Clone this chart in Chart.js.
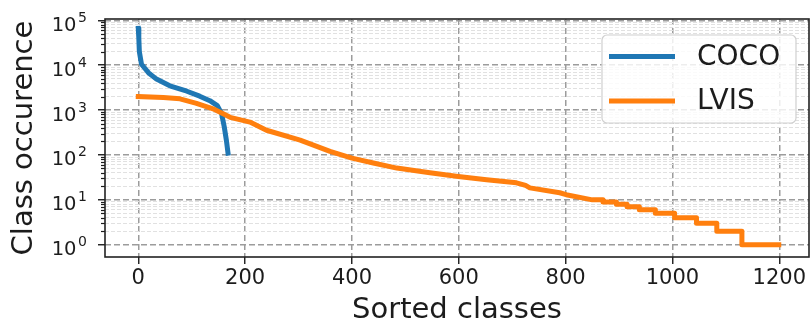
<!DOCTYPE html>
<html>
<head>
<meta charset="utf-8">
<script src="https://cdn.jsdelivr.net/npm/chart.js@4.4.1/dist/chart.umd.min.js"></script>
<style>
html,body{margin:0;padding:0;background:#ffffff;}
#c{display:block;}
</style>
</head>
<body>
<canvas id="c" width="810" height="329"></canvas>
<script>
// ---- data ----
const seriesNames = ['COCO', 'LVIS'];
const cocoX = [0, 1, 2, 6, 19, 34, 59, 91, 115, 134, 148, 156, 161, 165, 168];
const cocoY = [66000, 40000, 20000, 10500, 6800, 4900, 3470, 2630, 2040, 1620, 1260, 830, 420, 210, 110];
const lvisX = [0, 47, 78, 109, 140, 172, 209, 240, 303, 359, 400, 440, 484, 546, 599, 652, 708, 725, 733, 789, 801,
               850, 870, 870, 895, 895, 915, 915, 938, 938, 968, 968, 1004, 1004, 1045, 1045, 1083, 1083, 1130, 1130, 1199];
const lvisY = [2000, 1900, 1780, 1410, 1070, 690, 540, 355, 214, 120, 85, 66, 51, 40, 33, 28, 24, 21, 18.5, 14.4, 13,
               10, 10, 9, 9, 8, 8, 7, 7, 6, 6, 5, 5, 4, 4, 3, 3, 2, 2, 1, 1];
const xTickValues = [0, 200, 400, 600, 800, 1000, 1200];
const yTickExponents = [0, 1, 2, 3, 4, 5];
const xTitle = 'Sorted classes';
const yTitle = 'Class occurence';

// ---- styling ----
const FONT = "'DejaVu Sans', sans-serif";
const TXT = '#1c1c1c';
const colors = ['#1f77b4', '#ff7f0e'];

function toPts(xs, ys) { return xs.map((x, i) => ({x: x, y: ys[i]})); }

const decorPlugin = {
  id: 'decor',
  afterDraw(chart) {
    const ctx = chart.ctx;
    const a = chart.chartArea;
    const ys = chart.scales.y;
    ctx.save();
    // minor ticks on y
    ctx.strokeStyle = TXT;
    ctx.lineWidth = 1.2;
    ys.ticks.forEach(t => {
      if (t.major) return;
      const py = Math.round(ys.getPixelForValue(t.value)) + 0.5;
      ctx.beginPath();
      ctx.moveTo(a.left, py);
      ctx.lineTo(a.left - 4, py);
      ctx.stroke();
    });
    // y tick labels: base 10 with a raised exponent
    ctx.fillStyle = TXT;
    ctx.textBaseline = 'alphabetic';
    ys.ticks.forEach(t => {
      if (!t.major) return;
      const e = Math.round(Math.log10(t.value));
      const py = ys.getPixelForValue(t.value);
      const baseRight = a.left - 28.5;
      ctx.font = '19.5px ' + FONT;
      ctx.textAlign = 'right';
      ctx.fillText('10', baseRight, py + 10.5);
      ctx.font = '14px ' + FONT;
      ctx.textAlign = 'left';
      ctx.fillText(String(e), baseRight + 1.5, py + 1.5);
    });
    // frame
    ctx.lineWidth = 1.6;
    ctx.strokeStyle = '#222222';
    ctx.strokeRect(a.left, a.top, a.right - a.left, a.bottom - a.top);

    // legend box
    const lx = a.right - 207, ly = a.top + 16, lw = 194, lh = 88;
    ctx.beginPath();
    ctx.roundRect(lx, ly, lw, lh, 5);
    ctx.fillStyle = 'rgba(255,255,255,0.82)';
    ctx.fill();
    ctx.lineWidth = 1.2;
    ctx.strokeStyle = '#d0d0d0';
    ctx.stroke();
    const rows = [ly + 21.5, ly + 66];
    chart.data.datasets.forEach((ds, i) => {
      ctx.beginPath();
      ctx.lineCap = 'butt';
      ctx.strokeStyle = ds.borderColor;
      ctx.lineWidth = 5;
      ctx.moveTo(lx + 7, rows[i]);
      ctx.lineTo(lx + 73, rows[i]);
      ctx.stroke();
      ctx.fillStyle = TXT;
      ctx.font = '28px ' + FONT;
      ctx.textBaseline = 'middle';
      ctx.textAlign = 'left';
      ctx.fillText(ds.label, lx + 95, rows[i] + 1);
    });
    ctx.restore();
  }
};

new Chart(document.getElementById('c').getContext('2d'), {
  type: 'line',
  data: {
    datasets: [
      {label: seriesNames[0], data: toPts(cocoX, cocoY), borderColor: colors[0], backgroundColor: colors[0],
       borderWidth: 5, pointRadius: 0, tension: 0, fill: false, borderCapStyle: 'square', borderJoinStyle: 'round', order: 1},
      {label: seriesNames[1], data: toPts(lvisX, lvisY), borderColor: colors[1], backgroundColor: colors[1],
       borderWidth: 5, pointRadius: 0, tension: 0, fill: false, borderCapStyle: 'square', borderJoinStyle: 'round', order: 0}
    ]
  },
  options: {
    responsive: false,
    animation: false,
    devicePixelRatio: 1,
    layout: {padding: {top: 16, right: 1, left: 0, bottom: 0}},
    plugins: {legend: {display: false}, tooltip: {enabled: false}},
    scales: {
      x: {
        type: 'linear',
        min: -62.3,
        max: 1255.6,
        afterBuildTicks: s => { s.ticks = xTickValues.map(v => ({value: v, major: true})); },
        afterFit: s => { s.height = 72; },
        grid: {color: '#9c9c9c', lineWidth: 1.5, tickColor: TXT, tickWidth: 1.4, tickLength: 7, drawTicks: true},
        border: {display: false, dash: [6, 3]},
        ticks: {autoSkip: false, maxRotation: 0, color: TXT, padding: 2, font: {family: FONT, size: 21},
                callback: v => String(v)},
        title: {display: true, text: xTitle, color: TXT, font: {family: FONT, size: 29}, padding: {top: 0, bottom: 1.6}}
      },
      y: {
        type: 'logarithmic',
        min: 0.533,
        max: 106900,
        afterBuildTicks: s => {
          const t = [];
          yTickExponents.forEach(e => {
            for (let m = 1; m <= 9; m++) {
              const v = m * Math.pow(10, e);
              if (v >= s.min && v <= s.max) t.push({value: v, major: m === 1});
            }
          });
          s.ticks = t;
        },
        afterFit: s => { s.width = 105; },
        grid: {
          color: c => (c.tick && c.tick.major) ? '#9c9c9c' : '#e1e1e1',
          lineWidth: c => (c.tick && c.tick.major) ? 1.5 : 1,
          tickColor: c => (c.tick && c.tick.major) ? TXT : 'rgba(0,0,0,0)',
          tickWidth: 1.4,
          tickLength: 7,
          drawTicks: true
        },
        border: {display: false, dash: c => (c.tick && c.tick.major) ? [6, 3] : [4, 2]},
        ticks: {autoSkip: false, color: TXT, padding: 7, font: {family: FONT, size: 20}, callback: () => ''},
        title: {display: true, text: yTitle, color: TXT, font: {family: FONT, size: 29}, padding: {top: 6.6, bottom: 0}}
      }
    }
  },
  plugins: [decorPlugin]
});
</script>
</body>
</html>
